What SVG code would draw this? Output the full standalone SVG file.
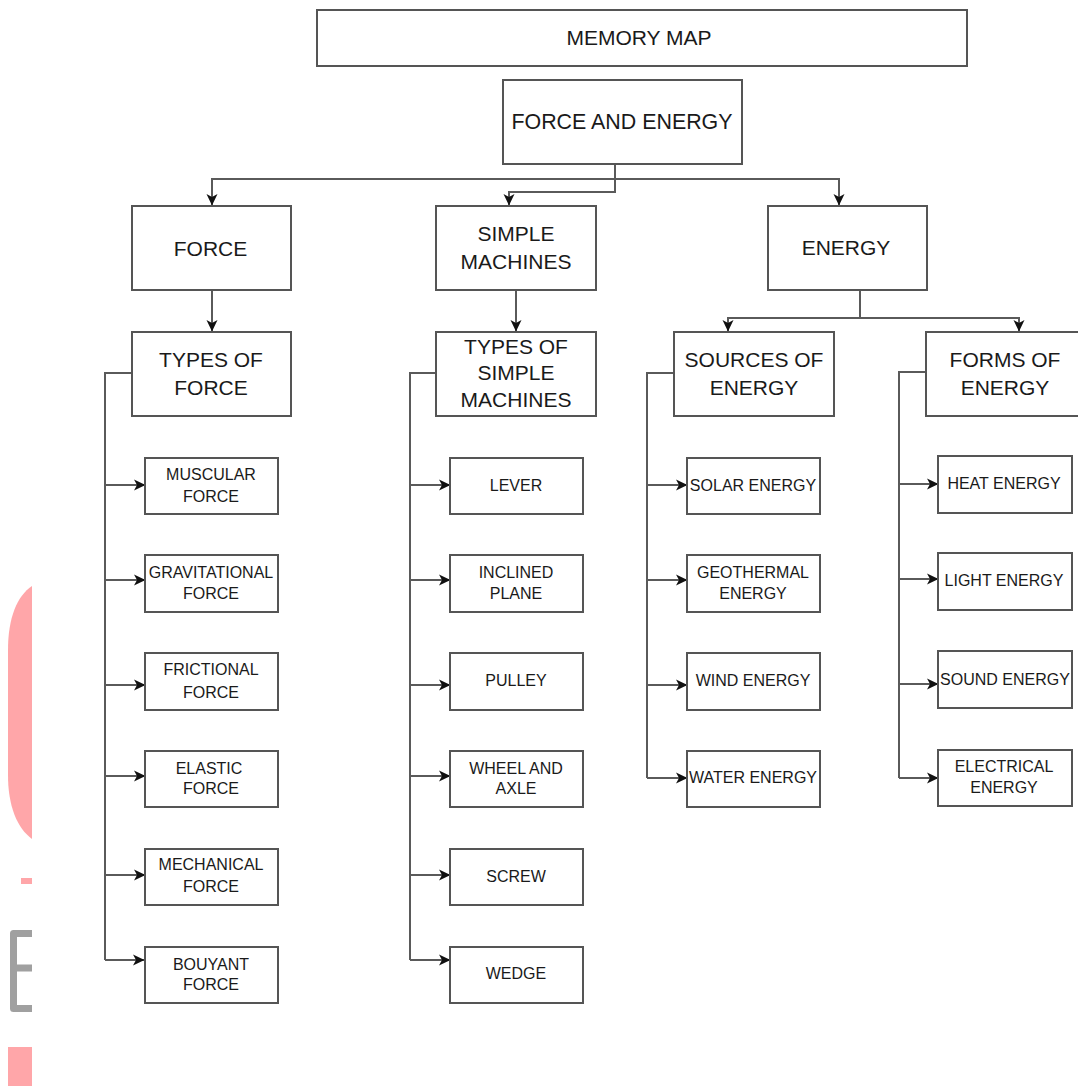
<svg xmlns="http://www.w3.org/2000/svg" width="1078" height="1086" viewBox="0 0 1078 1086">
<style>
text{font-family:"Liberation Sans",Arial,sans-serif;fill:#1a1a1a;text-anchor:middle}
.big{font-size:21px}
.small{font-size:16px}
.box{fill:#fff;stroke:#555;stroke-width:2}
.c{fill:none;stroke:#5a5a5a;stroke-width:2}
</style>
<defs>
<marker id="a" markerWidth="12" markerHeight="13" refX="11" refY="6" orient="auto" markerUnits="userSpaceOnUse" viewBox="0 0 12 12"><path d="M0 0.5L11.5 6L0 11.5L3 6Z" fill="#111"/></marker>
</defs>
<rect width="1078" height="1086" fill="#fff"/>
<g id="background">
<path d="M32 586C17 596 8 618 8 650V775C8 806 17 828 32 839Z" fill="#ffa6a9"/>
<rect x="21" y="878" width="11" height="6" fill="#ffa6a9"/>
<path d="M32 933.500H13.500V1008.500H32M13.500 968H32" fill="none" stroke="#a0a0a0" stroke-width="7" stroke-linejoin="round"/>
<rect x="8" y="1047" width="24" height="39" fill="#ffa6a9"/>
</g>
<g id="connectors">
<path class="c" d="M615 165V179H212V205" marker-end="url(#a)"/>
<path class="c" d="M615 179V192H509V205" marker-end="url(#a)"/>
<path class="c" d="M615 179H839V205" marker-end="url(#a)"/>
<path class="c" d="M212 290V331" marker-end="url(#a)"/>
<path class="c" d="M516 290V331" marker-end="url(#a)"/>
<path class="c" d="M860 290V318H728V331" marker-end="url(#a)"/>
<path class="c" d="M860 318H1019V331" marker-end="url(#a)"/>
<path class="c" d="M132 373H105V960"/>
<path class="c" d="M105 485H145" marker-end="url(#a)"/>
<path class="c" d="M105 580H145" marker-end="url(#a)"/>
<path class="c" d="M105 685H145" marker-end="url(#a)"/>
<path class="c" d="M105 776H145" marker-end="url(#a)"/>
<path class="c" d="M105 875H145" marker-end="url(#a)"/>
<path class="c" d="M105 960H144" marker-end="url(#a)"/>
<path class="c" d="M436 373H410V960"/>
<path class="c" d="M410 485H450" marker-end="url(#a)"/>
<path class="c" d="M410 580H450" marker-end="url(#a)"/>
<path class="c" d="M410 685H450" marker-end="url(#a)"/>
<path class="c" d="M410 776H450" marker-end="url(#a)"/>
<path class="c" d="M410 875H450" marker-end="url(#a)"/>
<path class="c" d="M410 960H450" marker-end="url(#a)"/>
<path class="c" d="M674 373H647V778"/>
<path class="c" d="M647 485H687" marker-end="url(#a)"/>
<path class="c" d="M647 580H687" marker-end="url(#a)"/>
<path class="c" d="M647 685H687" marker-end="url(#a)"/>
<path class="c" d="M647 778H687" marker-end="url(#a)"/>
<path class="c" d="M926 372H899V778"/>
<path class="c" d="M899 484H938" marker-end="url(#a)"/>
<path class="c" d="M899 579H938" marker-end="url(#a)"/>
<path class="c" d="M899 684H938" marker-end="url(#a)"/>
<path class="c" d="M899 778H938" marker-end="url(#a)"/>
</g>
<g id="memory-map"><rect class="box" x="317" y="10" width="650" height="56"/><text class="big" x="639" y="45">MEMORY MAP</text></g>
<g id="force-and-energy"><rect class="box" x="503" y="80" width="239" height="84"/><text class="big" x="622" y="129" style="font-size:21.4px">FORCE AND ENERGY</text></g>
<g id="force"><rect class="box" x="132" y="206" width="159" height="84"/><text class="big" x="210.500" y="256">FORCE</text></g>
<g id="simple-machines"><rect class="box" x="436" y="206" width="160" height="84"/><text class="big" x="516" y="241">SIMPLE</text><text class="big" x="516" y="269">MACHINES</text></g>
<g id="energy"><rect class="box" x="768" y="206" width="159" height="84"/><text class="big" x="846" y="255">ENERGY</text></g>
<g id="types-of-force"><rect class="box" x="132" y="332" width="159" height="84"/><text class="big" x="211" y="367">TYPES OF</text><text class="big" x="211" y="395">FORCE</text></g>
<g id="types-of-simple-machines"><rect class="box" x="436" y="332" width="160" height="84"/><text class="big" x="516" y="354">TYPES OF</text><text class="big" x="516" y="380">SIMPLE</text><text class="big" x="516" y="407">MACHINES</text></g>
<g id="sources-of-energy"><rect class="box" x="674" y="332" width="160" height="84"/><text class="big" x="754" y="367">SOURCES OF</text><text class="big" x="754" y="395">ENERGY</text></g>
<g id="forms-of-energy"><rect class="box" x="926" y="332" width="160" height="84"/><text class="big" x="1005" y="367">FORMS OF</text><text class="big" x="1005" y="395">ENERGY</text></g>
<g id="muscular"><rect class="box" x="145" y="458" width="133" height="56"/><text class="small" x="211" y="480">MUSCULAR</text><text class="small" x="211" y="502">FORCE</text></g>
<g id="gravitational"><rect class="box" x="145" y="555" width="133" height="57"/><text class="small" x="211" y="578">GRAVITATIONAL</text><text class="small" x="211" y="599">FORCE</text></g>
<g id="frictional"><rect class="box" x="145" y="653" width="133" height="57"/><text class="small" x="211" y="675">FRICTIONAL</text><text class="small" x="211" y="698">FORCE</text></g>
<g id="elastic"><rect class="box" x="145" y="751" width="133" height="56"/><text class="small" x="209" y="774">ELASTIC</text><text class="small" x="211" y="794">FORCE</text></g>
<g id="mechanical"><rect class="box" x="145" y="849" width="133" height="56"/><text class="small" x="211" y="870">MECHANICAL</text><text class="small" x="211" y="892">FORCE</text></g>
<g id="bouyant"><rect class="box" x="145" y="947" width="133" height="56"/><text class="small" x="211" y="970">BOUYANT</text><text class="small" x="211" y="990">FORCE</text></g>
<g id="lever"><rect class="box" x="450" y="458" width="133" height="56"/><text class="small" x="516" y="491">LEVER</text></g>
<g id="inclined"><rect class="box" x="450" y="555" width="133" height="57"/><text class="small" x="516" y="578">INCLINED</text><text class="small" x="516" y="599">PLANE</text></g>
<g id="pulley"><rect class="box" x="450" y="653" width="133" height="57"/><text class="small" x="516" y="686">PULLEY</text></g>
<g id="wheel"><rect class="box" x="450" y="751" width="133" height="56"/><text class="small" x="516" y="774">WHEEL AND</text><text class="small" x="516" y="794">AXLE</text></g>
<g id="screw"><rect class="box" x="450" y="849" width="133" height="56"/><text class="small" x="516" y="882">SCREW</text></g>
<g id="wedge"><rect class="box" x="450" y="947" width="133" height="56"/><text class="small" x="516" y="979">WEDGE</text></g>
<g id="solar"><rect class="box" x="687" y="458" width="133" height="56"/><text class="small" x="753" y="491">SOLAR ENERGY</text></g>
<g id="geothermal"><rect class="box" x="687" y="555" width="133" height="57"/><text class="small" x="753" y="578">GEOTHERMAL</text><text class="small" x="753" y="599">ENERGY</text></g>
<g id="wind"><rect class="box" x="687" y="653" width="133" height="57"/><text class="small" x="753" y="686">WIND ENERGY</text></g>
<g id="water"><rect class="box" x="687" y="751" width="133" height="56"/><text class="small" x="753" y="783">WATER ENERGY</text></g>
<g id="heat"><rect class="box" x="938" y="456" width="134" height="57"/><text class="small" x="1004" y="489">HEAT ENERGY</text></g>
<g id="light"><rect class="box" x="938" y="553" width="134" height="57"/><text class="small" x="1004" y="586">LIGHT ENERGY</text></g>
<g id="sound"><rect class="box" x="938" y="651" width="134" height="57"/><text class="small" x="1005" y="685">SOUND ENERGY</text></g>
<g id="electrical"><rect class="box" x="938" y="750" width="134" height="56"/><text class="small" x="1004" y="772">ELECTRICAL</text><text class="small" x="1004" y="793">ENERGY</text></g>
</svg>
